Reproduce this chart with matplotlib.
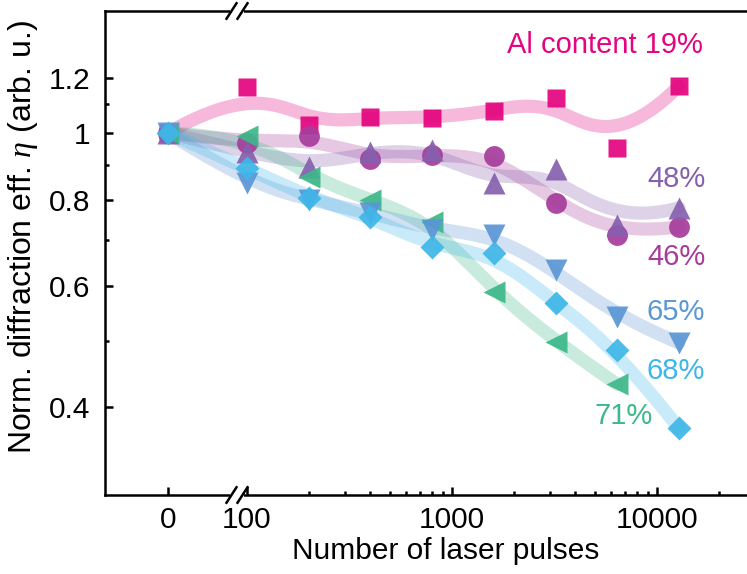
import numpy as np
import matplotlib
matplotlib.use("Agg")
import matplotlib.pyplot as plt
from matplotlib.ticker import FixedLocator, FixedFormatter, NullFormatter

plt.rcParams["font.family"] = ["Liberation Sans", "DejaVu Sans"]
plt.rcParams["mathtext.fontset"] = "custom"
plt.rcParams["mathtext.it"] = "Liberation Serif:italic"
plt.rcParams["mathtext.rm"] = "Liberation Sans"

# ---- data -------------------------------------------------------------
pulses = [0, 100, 200, 400, 800, 1600, 3200, 6400, 12800]
eta_19 = [1.0, 1.166, 1.027, 1.055, 1.051, 1.076, 1.124, 0.951, 1.170]
eta_46 = [1.0, 0.967, 0.990, 0.917, 0.929, 0.926, 0.792, 0.711, 0.731]
eta_48 = [1.0, 0.939, 0.893, 0.940, 0.945, 0.846, 0.887, 0.736, 0.779]
eta_65 = [1.0, 0.847, 0.800, 0.766, 0.724, 0.711, 0.633, 0.541, 0.496]
eta_68 = [1.0, 0.890, 0.805, 0.756, 0.684, 0.670, 0.567, 0.485, 0.373]
eta_71 = [1.0, 0.990, 0.863, 0.800, 0.743, 0.588, 0.498, 0.432]

x_major = [0, 100, 1000, 10000]
x_major_labels = ["0", "100", "1000", "10000"]
y_major = [0.4, 0.6, 0.8, 1.0, 1.2]
y_major_labels = ["0.4", "0.6", "0.8", "1", "1.2"]

# ---- broken x scale: linear around 0, logarithmic from ~90 upwards -----
X_BRK = 89.4            # data value where the axis switches to log
U_BRK = 69.0            # scale units at the break
U_DEC = 205.0           # scale units per decade
U_100 = U_BRK + U_DEC * np.log10(100.0 / X_BRK)


def fwd(x):
    x = np.asarray(x, dtype=float)
    lin = x * U_BRK / X_BRK
    lg = U_100 + U_DEC * np.log10(np.maximum(x, 1e-9) / 100.0)
    return np.where(x < X_BRK, lin, lg)


def inv(u):
    u = np.asarray(u, dtype=float)
    lin = u * X_BRK / U_BRK
    lg = 100.0 * 10 ** ((u - U_100) / U_DEC)
    return np.where(u < U_BRK, lin, lg)


def bspline(ctrl, n_out=400, k=3):
    """Clamped uniform B-spline using the given points as control points."""
    P = np.asarray(ctrl, dtype=float)
    m = len(P)
    knots = np.concatenate([np.zeros(k), np.arange(m - k + 1), np.full(k, m - k)]).astype(float)
    t = np.linspace(0, m - k, n_out)
    t[-1] -= 1e-9
    nb = len(knots) - 1
    N = ((knots[:-1][None, :] <= t[:, None]) & (t[:, None] < knots[1:][None, :])).astype(float)
    for d in range(1, k + 1):
        Nn = np.zeros((len(t), nb - d))
        for i in range(nb - d):
            a = knots[i + d] - knots[i]
            b = knots[i + d + 1] - knots[i + 1]
            term = np.zeros(len(t))
            if a > 0:
                term += (t - knots[i]) / a * N[:, i]
            if b > 0:
                term += (knots[i + d + 1] - t) / b * N[:, i + 1]
            Nn[:, i] = term
        N = Nn
    return N[:, :m] @ P


series = [
    (eta_19, "#E4047F", "s", 13.0),
    (eta_46, "#A63C9C", "o", 15.0),
    (eta_48, "#8660AE", "^", 16.0),
    (eta_71, "#3DB88A", "<", 16.0),
    (eta_65, "#5B96D5", "v", 16.0),
    (eta_68, "#3FB6E8", "D", 12.5),
]

fig = plt.figure(figsize=(7.47, 5.74), dpi=100)
ax = fig.add_axes([105 / 747, 79 / 574, 642 / 747, 484 / 574])
ax.set_xscale("function", functions=(fwd, inv))
ax.set_yscale("log")
ax.set_xlim(float(inv(-63.0)), float(inv(579.0)))
ax.set_ylim(0.2985, 1.503)

# smooth translucent bands
for vals, col, mk, ms in series:
    xs = pulses[:len(vals)]
    ctrl = np.column_stack([fwd(xs), np.log10(vals)])
    curve = bspline(ctrl)
    ax.plot(inv(curve[:, 0]), 10 ** curve[:, 1], color=col, alpha=0.28,
            lw=9.5, solid_capstyle="round", zorder=2)

# markers
for i, (vals, col, mk, ms) in enumerate(series):
    xs = pulses[:len(vals)]
    ax.plot(xs, vals, ls="none", marker=mk, ms=ms, color=col, mec="none",
            alpha=0.92, zorder=3 + i)

# labels on the curves
lab_fs = 21
ax.text(16760, 1.341, "Al content 19%", color="#E4047F", fontsize=lab_fs, ha="right", va="center")
ax.text(17200, 0.858, "48%", color="#8660AE", fontsize=lab_fs, ha="right", va="center")
ax.text(17200, 0.661, "46%", color="#A63C9C", fontsize=lab_fs, ha="right", va="center")
ax.text(17200, 0.550, "65%", color="#5B96D5", fontsize=lab_fs, ha="right", va="center")
ax.text(17200, 0.452, "68%", color="#3FB6E8", fontsize=lab_fs, ha="right", va="center")
ax.text(9490, 0.388, "71%", color="#3DB88A", fontsize=lab_fs, ha="right", va="center")

# ticks
tick_fs = 21.5
ax.xaxis.set_major_locator(FixedLocator(x_major))
ax.xaxis.set_major_formatter(FixedFormatter(x_major_labels))
x_minor = [m * 10 ** e for e in (2, 3) for m in range(2, 10)] + [20000]
ax.xaxis.set_minor_locator(FixedLocator(x_minor))
ax.xaxis.set_minor_formatter(NullFormatter())
ax.yaxis.set_major_locator(FixedLocator(y_major))
ax.yaxis.set_major_formatter(FixedFormatter(y_major_labels))
ax.yaxis.set_minor_locator(FixedLocator([0.5, 0.7, 0.9, 1.1]))
ax.yaxis.set_minor_formatter(NullFormatter())
ax.tick_params(axis="both", which="both", direction="in", width=1.8,
               top=False, right=False, labelsize=tick_fs)
ax.tick_params(axis="both", which="major", length=6)
ax.tick_params(axis="both", which="minor", length=3)
ax.tick_params(axis="x", which="major", pad=8)
ax.tick_params(axis="y", which="major", pad=10.5)

for side in ("left", "bottom", "top"):
    ax.spines[side].set_linewidth(1.8)
ax.spines["right"].set_visible(False)

ax.set_xlabel("Number of laser pulses", fontsize=21.5)
ax.xaxis.set_label_coords((446 - 105) / 642, -0.086)
ax.set_ylabel(r"Norm. diffraction eff. $\eta$ (arb. u.)", fontsize=23)
ax.yaxis.set_label_coords(-0.102, (495 - 237) / 484)

# axis break marks on the top and bottom spines
u_b = U_BRK
for yax in (0.0, 1.0):
    bx0 = float(inv(u_b - 7))
    bx1 = float(inv(u_b + 7))
    ax.plot([bx0, bx1], [yax, yax], transform=ax.get_xaxis_transform(),
            color="white", lw=4, clip_on=False, zorder=20, solid_capstyle="butt")
    for du in (-5.5, 5.5):
        xa = float(inv(u_b + du - 5))
        xb = float(inv(u_b + du + 5))
        ax.plot([xa, xb], [yax - 0.016, yax + 0.016], transform=ax.get_xaxis_transform(),
                color="black", lw=1.8, clip_on=False, zorder=21)

fig.savefig("out.png", dpi=100)
